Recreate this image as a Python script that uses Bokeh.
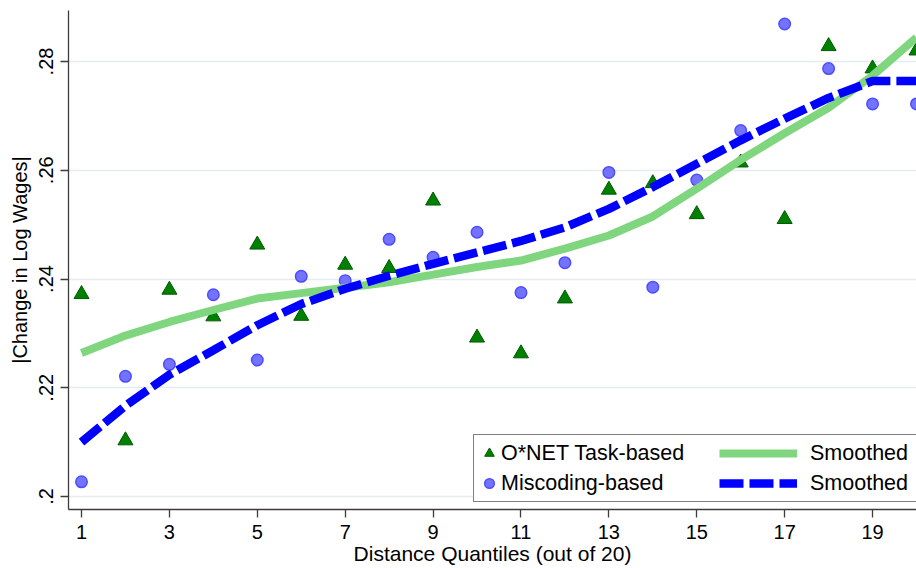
from bokeh.plotting import figure
from bokeh.models import (Range1d, FixedTicker, CustomJSTickFormatter, Legend,
                          LegendItem, ColumnDataSource)
from bokeh.embed import file_html
from bokeh.resources import INLINE

# ---- data ----
quantiles = list(range(1, 21))
onet_task = [0.2372, 0.2103, 0.2380, 0.2331, 0.2463, 0.2332, 0.2426, 0.2420, 0.2544, 0.2292,
             0.2263, 0.2364, 0.2564, 0.2576, 0.2519, 0.2614, 0.2510, 0.2828, 0.2787, 0.2820]
miscoding = [0.2027, 0.2221, 0.2243, 0.2371, 0.2251, 0.2405, 0.2397, 0.2473, 0.2440, 0.2486,
             0.2375, 0.2430, 0.2596, 0.2385, 0.2582, 0.2673, 0.2869, 0.2787, 0.2722, 0.2722]
onet_smoothed = [0.2264, 0.2296, 0.2321, 0.2343, 0.2364, 0.2374, 0.2384, 0.2394, 0.2408, 0.2422,
                 0.2434, 0.2456, 0.2480, 0.2515, 0.2566, 0.2619, 0.2668, 0.2715, 0.2774, 0.2844]
miscoding_smoothed = [0.2100, 0.2167, 0.2224, 0.2269, 0.2315, 0.2354, 0.2382, 0.2406, 0.2428, 0.2449,
                      0.2470, 0.2495, 0.2529, 0.2569, 0.2612, 0.2655, 0.2695, 0.2733, 0.2764, 0.2764]
x_ticks = [1, 3, 5, 7, 9, 11, 13, 15, 17, 19]
y_ticks = [0.20, 0.22, 0.24, 0.26, 0.28]
y_tick_labels = [".2", ".22", ".24", ".26", ".28"]
x_title = "Distance Quantiles (out of 20)"
y_title = "|Change in Log Wages|"
legend_labels = ["O*NET Task-based", "Miscoding-based", "Smoothed", "Smoothed"]

FONT = "Liberation Sans"

src = ColumnDataSource(dict(q=quantiles, onet=onet_task, mis=miscoding,
                            sonet=onet_smoothed, smis=miscoding_smoothed))

p = figure(width=916, height=568, output_backend="svg", toolbar_location=None,
           x_range=Range1d(0.704, 20.0), y_range=Range1d(0.19761, 0.28938),
           min_border_left=68, min_border_right=0, min_border_top=10, min_border_bottom=59)
p.outline_line_color = None
p.background_fill_color = "white"
p.border_fill_color = "white"

# grid
p.xgrid.visible = False
p.ygrid.ticker = FixedTicker(ticks=y_ticks)
p.ygrid.grid_line_color = "#e4ecef"
p.ygrid.grid_line_width = 1.6

# axes
for ax in (p.xaxis[0], p.yaxis[0]):
    ax.axis_line_color = "#3c3c3c"
    ax.axis_line_width = 1.3
    ax.major_tick_line_color = "#3c3c3c"
    ax.major_tick_line_width = 1.3
    ax.major_tick_in = 0
    ax.major_tick_out = 8
    ax.minor_tick_line_color = None
    ax.major_label_text_font = FONT
    ax.major_label_text_font_size = "20px"
    ax.major_label_text_color = "black"
    ax.axis_label_text_font = FONT
    ax.axis_label_text_font_size = "20px"
    ax.axis_label_text_font_style = "normal"
    ax.axis_label_text_color = "black"

p.xaxis.ticker = FixedTicker(ticks=x_ticks)
p.xaxis.axis_label = x_title
p.xaxis.axis_label_text_font_size = "21px"
p.xaxis.major_label_standoff = 7
p.xaxis.axis_label_standoff = 0

p.yaxis.ticker = FixedTicker(ticks=y_ticks)
p.yaxis.formatter = CustomJSTickFormatter(
    args=dict(yt=y_ticks, yl=y_tick_labels),
    code="const i = yt.findIndex(t => Math.abs(t - tick) < 1e-9); return i >= 0 ? yl[i] : '';")
p.yaxis.major_label_orientation = "vertical"
p.yaxis.axis_label = y_title
p.yaxis.major_label_standoff = 7
p.yaxis.axis_label_standoff = 6

# glyphs
r_tri = p.scatter("q", "onet", source=src, marker="triangle", size=15,
                  fill_color="#008000", line_color="#005a00", line_width=1)
r_circ = p.scatter("q", "mis", source=src, marker="circle", size=11.5,
                   fill_color="#7373ff", line_color="#4d4dff", line_width=1.5)
r_green = p.line("q", "sonet", source=src, line_color="#7fd67f", line_width=8)
r_blue = p.line("q", "smis", source=src, line_color="#0000ff", line_width=8.5,
                line_dash="24 6")

common = dict(label_text_font=FONT, label_text_font_size="21.5px", label_text_color="black",
              glyph_height=30, spacing=-1, padding=3, margin=0)

leg_a = Legend(items=[LegendItem(label=legend_labels[0], renderers=[r_tri]),
                      LegendItem(label=legend_labels[1], renderers=[r_circ])],
               location=(405, 7), glyph_width=24, label_standoff=0, label_width=430,
               border_line_color="black", border_line_width=1.2,
               background_fill_color="white", background_fill_alpha=1.0, **common)
leg_b = Legend(items=[LegendItem(label=legend_labels[2], renderers=[r_green]),
                      LegendItem(label=legend_labels[3], renderers=[r_blue])],
               location=(651, 11), glyph_width=78, label_standoff=13,
               border_line_color=None, background_fill_alpha=0.0, **common)
p.add_layout(leg_a)
p.add_layout(leg_b)

open("out.html", "w").write(file_html(p, INLINE))
